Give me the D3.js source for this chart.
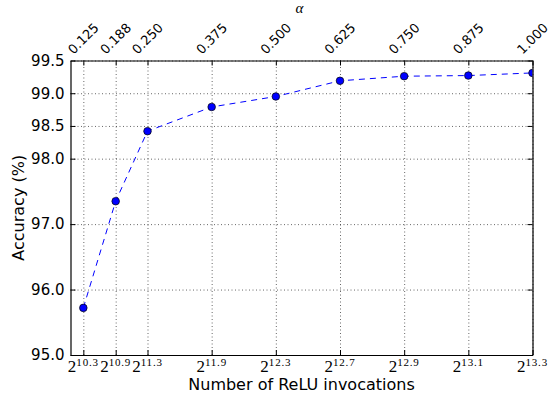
<!DOCTYPE html>
<html>
<head>
<meta charset="utf-8">
<script src="https://cdn.jsdelivr.net/npm/d3@7"></script>
<style>
  body { margin: 0; background: #fff; }
  svg { display: block; }
  .tick line { stroke: #000; }
</style>
</head>
<body>
<div id="graph"></div>
<script>
// values
var alphas = [0.125, 0.188, 0.250, 0.375, 0.500, 0.625, 0.750, 0.875, 1.000];
var exponents = ["10.3", "10.9", "11.3", "11.9", "12.3", "12.7", "12.9", "13.1", "13.3"];
var accuracy = [95.72, 97.35, 98.42, 98.79, 98.95, 99.19, 99.26, 99.27, 99.31];
var yTicks = [95.0, 96.0, 97.0, 98.0, 98.5, 99.0, 99.5];

var W = 548, H = 397;
var margin = {top: 60.5, right: 15.5, bottom: 42, left: 70.5},
    width = W - margin.left - margin.right,
    height = H - margin.top - margin.bottom;

var svg = d3.select("#graph")
  .append("svg")
    .attr("width", W)
    .attr("height", H)
    .style("font-family", "'DejaVu Sans', sans-serif");

var g = svg.append("g")
    .attr("transform", "translate(" + margin.left + "," + margin.top + ")");

var x = d3.scaleLinear().domain([0.1, 1.0]).range([0, width]);
var y = d3.scaleLinear().domain([95, 99.5]).range([height, 0]);

// grid
g.append("g")
  .attr("class", "grid")
  .attr("transform", "translate(0," + height + ")")
  .call(d3.axisBottom(x).tickValues(alphas).tickSize(-height).tickFormat(""))
  .call(function(s) { s.select(".domain").remove(); });
g.append("g")
  .attr("class", "grid")
  .call(d3.axisLeft(y).tickValues(yTicks).tickSize(-width).tickFormat(""))
  .call(function(s) { s.select(".domain").remove(); });
g.selectAll(".grid line")
  .style("stroke", "#000")
  .style("stroke-width", 0.8)
  .style("stroke-dasharray", "1,2.5")
  .style("opacity", 0.75);

// clip for line and markers
g.append("clipPath").attr("id", "clip")
  .append("rect").attr("width", width).attr("height", height);

var line = d3.line()
  .x(function(d, i) { return x(alphas[i]); })
  .y(function(d) { return y(d); });

var plot = g.append("g").attr("clip-path", "url(#clip)");
plot.append("path")
  .datum(accuracy)
  .attr("d", line)
  .style("fill", "none")
  .style("stroke", "#0000ff")
  .style("stroke-width", 1)
  .style("stroke-dasharray", "6,5");

plot.selectAll("circle")
  .data(accuracy)
  .enter()
  .append("circle")
    .attr("cx", function(d, i) { return x(alphas[i]); })
    .attr("cy", function(d) { return y(d); })
    .attr("r", 3.8)
    .style("fill", "#0000ff")
    .style("stroke", "#000")
    .style("stroke-width", 0.7);

// axes with inward ticks
g.append("g")
  .attr("transform", "translate(0," + height + ")")
  .call(d3.axisBottom(x).tickValues(alphas).tickSizeInner(-5).tickSizeOuter(0).tickFormat(""));
g.append("g")
  .call(d3.axisTop(x).tickValues(alphas).tickSizeInner(-5).tickSizeOuter(0).tickFormat(""));
var leftAxis = g.append("g")
  .call(d3.axisLeft(y).tickValues(yTicks).tickSizeInner(-5).tickSizeOuter(0)
    .tickPadding(6).tickFormat(d3.format(".1f")));
g.append("g")
  .attr("transform", "translate(" + width + ",0)")
  .call(d3.axisRight(y).tickValues(yTicks).tickSizeInner(-5).tickSizeOuter(0).tickFormat(""));

g.selectAll(".domain").style("stroke", "#000").style("stroke-width", 1.2);
leftAxis.selectAll("text")
  .style("font-family", "'DejaVu Sans', sans-serif")
  .style("font-size", "15px")
  .style("fill", "#000");

// bottom labels: 2^exponent
var bl = g.append("g").selectAll("text")
  .data(exponents)
  .enter()
  .append("text")
    .attr("x", function(d, i) { return x(alphas[i]); })
    .attr("y", height + 17)
    .attr("text-anchor", "middle")
    .style("font-family", "'Liberation Serif', serif")
    .style("fill", "#000");
bl.append("tspan").style("font-size", "17px").text("2");
bl.append("tspan").attr("dy", -6).style("font-size", "11px")
  .style("letter-spacing", "0.8px").text(function(d) { return d; });

// top labels: alpha, rotated
g.append("g").selectAll("text")
  .data(alphas)
  .enter()
  .append("text")
    .attr("transform", function(d) { return "translate(" + x(d) + "," + -22 + ") rotate(-45)"; })
    .attr("text-anchor", "middle")
    .attr("dy", "0.35em")
    .style("font-size", "13px")
    .style("fill", "#000")
    .text(function(d) { return d3.format(".3f")(d); });

// axis titles
svg.append("text")
  .attr("x", margin.left + width / 2)
  .attr("y", 390)
  .attr("text-anchor", "middle")
  .style("font-size", "16px")
  .text("Number of ReLU invocations");

svg.append("text")
  .attr("transform", "translate(24," + (margin.top + height / 2) + ") rotate(-90)")
  .attr("text-anchor", "middle")
  .style("font-size", "16px")
  .text("Accuracy (%)");

svg.append("text")
  .attr("x", margin.left + width / 2 - 2)
  .attr("y", 13)
  .attr("text-anchor", "middle")
  .style("font-family", "'Liberation Serif', serif")
  .style("font-style", "italic")
  .style("font-size", "15px")
  .text("α");
</script>
</body>
</html>
